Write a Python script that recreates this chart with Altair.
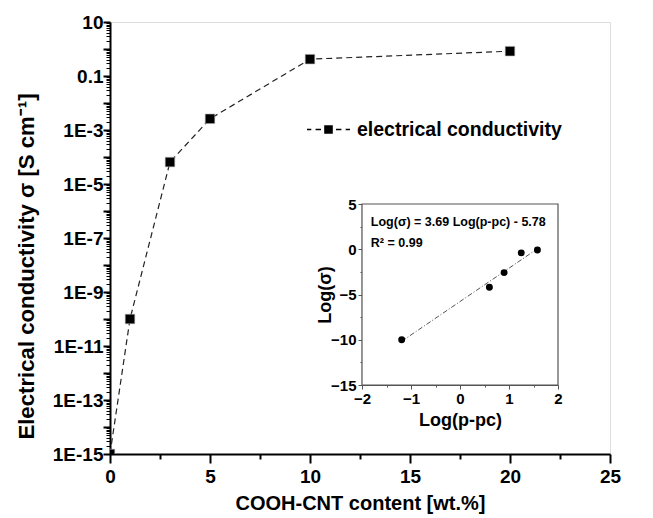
import altair as alt
import pandas as pd

# ---------------- data ----------------
content = [0, 1, 3, 5, 10, 20]                       # wt.%
sigma = [1e-15, 1e-10, 6.5e-5, 2.6e-3, 0.42, 0.83]   # S/cm
series_name = "electrical conductivity"

log_pc = [-1.19, 0.6, 0.9, 1.25, 1.58]               # Log(p-pc)
log_sigma = [-10.0, -4.2, -2.58, -0.4, -0.08]        # Log(sigma)
fit_slope, fit_intercept = 3.69, -5.78
fit_x = [-1.19, 1.58]

eq_text = ["Log(σ) = 3.69 Log(p-pc) - 5.78", "R² = 0.99"]
eq_x = [-1.82, -1.82]
eq_y = [3.0, 0.7]

frame_x = [-2, 2]
frame_y = [-15, 5]

x_ticks = [0, 2.5, 5, 7.5, 10, 12.5, 15, 17.5, 20, 22.5, 25]
y_ticks = [m * 10.0 ** k for k in range(-15, 1) for m in range(1, 10)] + [10.0]
in_x_ticks = [-2, -1.5, -1, -0.5, 0, 0.5, 1, 1.5, 2]
in_y_ticks = [-15, -12.5, -10, -7.5, -5, -2.5, 0, 2.5, 5]

FONT = "Liberation Sans"
W, H = 500, 432

main_df = pd.DataFrame({"content": content, "sigma": sigma, "series": [series_name] * len(content)})
pts_df = pd.DataFrame({"lx": log_pc, "ly": log_sigma})
fit_df = pd.DataFrame({"lx": fit_x, "ly": [fit_slope * v + fit_intercept for v in fit_x]})
frame_df = pd.DataFrame({"lx": [frame_x[0]], "lx2": [frame_x[1]], "ly": [frame_y[0]], "ly2": [frame_y[1]]})
text_df = pd.DataFrame({"lx": eq_x, "ly": eq_y, "label": eq_text})

# ---------------- main chart ----------------
decade = "abs(log(datum.value)/LN10 - round(log(datum.value)/LN10)) < 0.001"
expo = "round(log(datum.value)/LN10)"
y_label_expr = (
    f"({decade}) && (abs({expo}) % 2 == 1) ? "
    f"({expo} == 1 ? '10' : ({expo} == -1 ? '0.1' : '1E' + {expo})) : ''"
)

x_main = alt.X(
    "content:Q",
    scale=alt.Scale(domain=[0, 25], nice=False, zero=False),
    axis=alt.Axis(
        title="COOH-CNT content [wt.%]",
        values=x_ticks,
        labelExpr="datum.value % 5 == 0 ? format(datum.value, 'd') : ''",
        labelOverlap=False,
        labelFlush=False,
        grid=False,
        domainColor="black",
        domainWidth=2,
        tickColor="black",
        tickWidth=2,
        tickSize={"condition": {"test": "datum.value % 5 == 0", "value": 9}, "value": 5},
        labelFont=FONT,
        labelFontSize=19,
        labelFontWeight="bold",
        labelColor="black",
        labelPadding=4,
        titleFont=FONT,
        titleFontSize=20,
        titleFontWeight="bold",
        titleColor="black",
        titlePadding=7,
    ),
)
y_main = alt.Y(
    "sigma:Q",
    scale=alt.Scale(type="log", domain=[1e-15, 10], nice=False),
    axis=alt.Axis(
        title="Electrical conductivity σ [S cm⁻¹]",
        values=y_ticks,
        labelExpr=y_label_expr,
        labelOverlap=False,
        labelFlush=False,
        grid=False,
        domainColor="black",
        domainWidth=2,
        tickColor="black",
        tickWidth={"condition": {"test": decade, "value": 2}, "value": 1},
        tickSize={"condition": {"test": decade, "value": 7}, "value": 4},
        labelFont=FONT,
        labelFontSize=19,
        labelFontWeight="bold",
        labelColor="black",
        labelPadding=0,
        titleFont=FONT,
        titleFontSize=22.2,
        titleFontWeight="bold",
        titleColor="black",
        titlePadding=14,
        titleY=244,
    ),
)

legend_path = (
    "M-1,-0.03H-0.8V0.03H-1Z "
    "M-0.6,-0.03H-0.35V0.03H-0.6Z "
    "M-0.2,-0.2H0.2V0.2H-0.2Z "
    "M0.35,-0.03H0.6V0.03H0.35Z "
    "M0.8,-0.03H1V0.03H0.8Z"
)

main_line = alt.Chart(main_df).mark_line(
    color="#222", strokeWidth=1.2, strokeDash=[6, 4], clip=True
).encode(x=x_main, y=y_main)

main_pts = alt.Chart(main_df).mark_square(size=92, opacity=1, clip=True, stroke="#bbb", strokeWidth=0.6).encode(
    x=x_main,
    y=y_main,
    color=alt.Color(
        "series:N",
        scale=alt.Scale(range=["black"]),
        legend=alt.Legend(
            title=None,
            orient="none",
            legendX=197,
            legendY=86,
            symbolType=legend_path,
            symbolSize=1849,
            symbolStrokeWidth=0,
            symbolFillColor="black",
            labelFont=FONT,
            labelFontSize=19.5,
            labelFontWeight="bold",
            labelColor="black",
            labelOffset=7,
            labelLimit=400,
            padding=0,
        ),
    ),
)

main = alt.layer(main_line, main_pts)

# ---------------- inset ----------------
xs_in = alt.Scale(domain=[-2, 2], range=[252, 448], nice=False, zero=False)
ys_in = alt.Scale(domain=[-15, 5], range=[363, 182], nice=False, zero=False)

ax_in_x = alt.Axis(
    title="Log(p-pc)",
    orient="bottom",
    offset=-69,
    values=in_x_ticks,
    labelExpr="datum.value % 1 == 0 ? format(datum.value, 'd') : ''",
    labelOverlap=False,
    labelFlush=False,
    grid=False,
    domainColor="#555",
    domainWidth=1.2,
    tickColor="#555",
    tickSize={"condition": {"test": "datum.value % 1 == 0", "value": 4}, "value": 2},
    labelFont=FONT,
    labelFontSize=15,
    labelFontWeight="bold",
    labelColor="black",
    labelPadding=2,
    titleFont=FONT,
    titleFontSize=18,
    titleFontWeight="bold",
    titleColor="black",
    titlePadding=5,
)
ax_in_y = alt.Axis(
    title="Log(σ)",
    orient="left",
    offset=-252,
    values=in_y_ticks,
    labelExpr="datum.value % 5 == 0 ? format(datum.value, 'd') : ''",
    labelOverlap=False,
    labelFlush=False,
    grid=False,
    domainColor="#555",
    domainWidth=1.2,
    tickColor="#555",
    tickSize={"condition": {"test": "datum.value % 5 == 0", "value": 4}, "value": 2},
    labelFont=FONT,
    labelFontSize=15,
    labelFontWeight="bold",
    labelColor="black",
    labelPadding=2,
    titleFont=FONT,
    titleFontSize=18,
    titleFontWeight="bold",
    titleColor="black",
    titlePadding=-4,
)

in_frame = alt.Chart(frame_df).mark_rect(fill="white", stroke="#555", strokeWidth=1.2).encode(
    x=alt.X("lx:Q", scale=xs_in, axis=ax_in_x),
    x2="lx2:Q",
    y=alt.Y("ly:Q", scale=ys_in, axis=ax_in_y),
    y2="ly2:Q",
)
in_fit = alt.Chart(fit_df).mark_line(color="#555", strokeWidth=1, strokeDash=[5, 2, 1, 2]).encode(
    x=alt.X("lx:Q", scale=xs_in, axis=ax_in_x),
    y=alt.Y("ly:Q", scale=ys_in, axis=ax_in_y),
)
in_pts = alt.Chart(pts_df).mark_circle(size=48, color="black", opacity=1).encode(
    x=alt.X("lx:Q", scale=xs_in, axis=ax_in_x),
    y=alt.Y("ly:Q", scale=ys_in, axis=ax_in_y),
)
in_text = alt.Chart(text_df).mark_text(
    align="left", baseline="middle", font=FONT, fontSize=12.5, fontWeight="bold", color="black"
).encode(
    x=alt.X("lx:Q", scale=xs_in, axis=ax_in_x),
    y=alt.Y("ly:Q", scale=ys_in, axis=ax_in_y),
    text="label:N",
)

inset = alt.layer(in_frame, in_fit, in_pts, in_text)

chart = (
    alt.layer(main, inset)
    .resolve_scale(x="independent", y="independent")
    .properties(
        width=W,
        height=H,
        autosize=alt.AutoSizeParams(type="none"),
        padding={"left": 102, "top": 14, "right": 35, "bottom": 64},
    )
    .configure_view(stroke="black", strokeWidth=2)
    .configure(font=FONT, background="white")
)

chart.save("out.html", embed_options={"renderer": "svg", "actions": False})
